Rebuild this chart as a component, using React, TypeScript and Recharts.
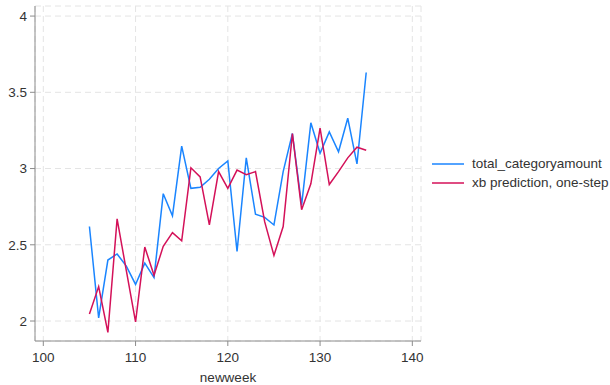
import React from "react";
import { LineChart, Line, XAxis, YAxis, CartesianGrid } from "recharts";

const weeks = [105, 106, 107, 108, 109, 110, 111, 112, 113, 114, 115, 116, 117, 118, 119, 120, 121, 122, 123, 124, 125, 126, 127, 128, 129, 130, 131, 132, 133, 134, 135];
const totalAmount = [2.62, 2.02, 2.40, 2.44, 2.36, 2.24, 2.38, 2.285, 2.835, 2.69, 3.147, 2.87, 2.877, 2.93, 3.00, 3.05, 2.456, 3.07, 2.70, 2.68, 2.63, 2.98, 3.23, 2.76, 3.30, 3.10, 3.24, 3.11, 3.33, 3.03, 3.63];
const xbPrediction = [2.046, 2.226, 1.925, 2.67, 2.33, 1.995, 2.485, 2.30, 2.49, 2.58, 2.526, 3.005, 2.945, 2.63, 2.98, 2.87, 2.99, 2.96, 2.98, 2.65, 2.43, 2.62, 3.23, 2.73, 2.90, 3.265, 2.895, 2.98, 3.07, 3.14, 3.12];
const xTicks = [100, 110, 120, 130, 140];
const yTicks = [2, 2.5, 3, 3.5, 4];

const seriesNames = ["total_categoryamount", "xb prediction, one-step"];
const seriesColors = ["#1a85ff", "#d41159"];

const data = weeks.map((w, i) => ({ week: w, total: totalAmount[i], xb: xbPrediction[i] }));

const FONT = "'Liberation Sans', Arial, sans-serif";

function ChartLegend() {
  return (
    <div style={{ position: "absolute", left: 432, top: 154, fontFamily: FONT, fontSize: 13.5, color: "#333", whiteSpace: "nowrap" }}>
      {seriesNames.map((n, i) => (
        <div key={n} style={{ display: "flex", alignItems: "center", height: 19 }}>
          <svg width={32} height={4} style={{ marginRight: 8 }}>
            <line x1={0} y1={2} x2={32} y2={2} stroke={seriesColors[i]} strokeWidth={1.5} />
          </svg>
          <span>{n}</span>
        </div>
      ))}
    </div>
  );
}

export default function App() {
  return (
    <div style={{ position: "absolute", left: 0, top: 0, width: 610, height: 385, background: "#fff" }}>
      <LineChart width={610} height={385} data={data} margin={{ top: 6, right: 189, bottom: 0, left: 0 }}>
        <CartesianGrid stroke="#e4e4e4" strokeDasharray="6 4" />
        <XAxis
          dataKey="week"
          type="number"
          domain={[99.1, 140.94]}
          ticks={xTicks}
          allowDataOverflow
          height={44}
          stroke="#8c8c8c"
          tick={{ fill: "#333", fontSize: 13.5, fontFamily: FONT }}
          tickSize={5}
          tickMargin={6}
          label={{ value: "newweek", position: "insideBottom", offset: 3, fill: "#333", fontSize: 13.5, fontFamily: FONT }}
        />
        <YAxis
          type="number"
          domain={[1.869, 4.066]}
          ticks={yTicks}
          allowDataOverflow
          width={35}
          stroke="#8c8c8c"
          tick={{ fill: "#333", fontSize: 13.5, fontFamily: FONT }}
          tickSize={5}
          tickMargin={3}
        />
        <Line dataKey="total" name={seriesNames[0]} stroke={seriesColors[0]} strokeWidth={1.5} dot={false} isAnimationActive={false} />
        <Line dataKey="xb" name={seriesNames[1]} stroke={seriesColors[1]} strokeWidth={1.5} dot={false} isAnimationActive={false} />
      </LineChart>
      <ChartLegend />
    </div>
  );
}
